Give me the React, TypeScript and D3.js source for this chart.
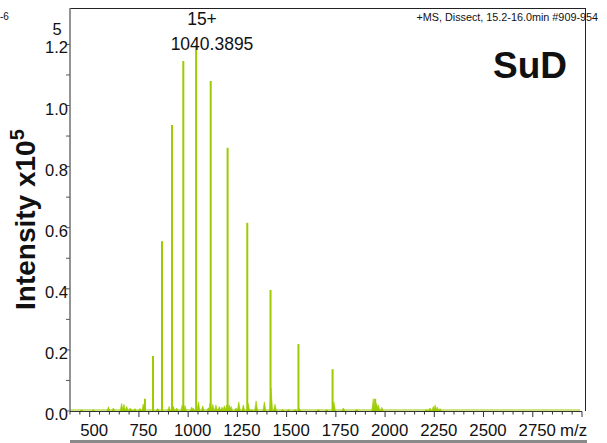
import React from "react";
import * as d3 from "d3";

const W = 607;
const H = 443;

// Charge-state series peaks (m/z, intensity x1e5)
const peakMz = [780.5, 821.6, 867.1, 918.1, 975.4, 1040.39, 1114.6, 1200.3, 1300.2, 1418.3, 1560.1, 1733.3, 1949.8];
const peakInt = [0.04, 0.18, 0.556, 0.936, 1.146, 1.198, 1.08, 0.862, 0.616, 0.396, 0.219, 0.137, 0.04];

// Minor / noise peaks
const noiseMz = [459, 518, 595, 620, 662, 674, 688, 705, 713, 730, 755, 772, 845, 903, 925, 942, 970, 984, 1018, 1026, 1052, 1074, 1102, 1111, 1125, 1141, 1158, 1172, 1184, 1196, 1209, 1218, 1243, 1257, 1280, 1305, 1323, 1345, 1387, 1421, 1441, 1480, 1509, 1543, 1565, 1661, 1704, 1740, 1788, 1856, 1940, 1957, 1966, 1983, 2210, 2228, 2245, 2254, 2265, 2279];
const noiseInt = [0.004, 0.004, 0.014, 0.01, 0.025, 0.022, 0.015, 0.01, 0.005, 0.008, 0.008, 0.023, 0.008, 0.015, 0.015, 0.01, 0.02, 0.018, 0.013, 0.01, 0.03, 0.017, 0.01, 0.025, 0.022, 0.02, 0.015, 0.013, 0.017, 0.02, 0.02, 0.015, 0.01, 0.03, 0.02, 0.025, 0.005, 0.033, 0.03, 0.075, 0.022, 0.005, 0.005, 0.005, 0.008, 0.005, 0.004, 0.03, 0.01, 0.005, 0.04, 0.025, 0.02, 0.012, 0.005, 0.01, 0.015, 0.02, 0.013, 0.008];

const yTickLabels = ["0.0", "0.2", "0.4", "0.6", "0.8", "1.0", "1.2"];
const xTickLabels = [500, 750, 1000, 1250, 1500, 1750, 2000, 2250, 2500, 2750];

const GREEN = "#9ccc00";
const FONT = "Liberation Sans, Arial, sans-serif";

export default function App() {
  const x = d3.scaleLinear().domain([400, 3000]).range([70, 582]);
  const y = d3.scaleLinear().domain([0, 1.2]).range([411, 44.4]);

  const minorX = d3.range(400, 3001, 50);
  const minorY = d3.range(0, 1.21, 0.1);

  return (
    <div style={{ position: "absolute", left: 0, top: 0 }}>
      <svg width={W} height={H} style={{ display: "block", fontFamily: FONT }}>
        <rect width={W} height={H} fill="#fff" />
        {/* frame */}
        <line x1={70} y1={8.5} x2={585.5} y2={8.5} stroke="#222" strokeWidth={1} />
        <line x1={585.5} y1={8} x2={585.5} y2={411} stroke="#222" strokeWidth={1} />
        {/* baseline spectrum */}
        <line x1={x(400)} y1={y(0) - 1} x2={x(2990)} y2={y(0) - 1} stroke={GREEN} strokeWidth={1.2} />
        {/* noise peaks */}
        {noiseMz.map((m, i) => (
          <path
            key={"n" + i}
            d={`M${x(m) - 1.5},${y(0)} L${x(m)},${y(noiseInt[i])} L${x(m) + 1.5},${y(0)} Z`}
            fill={GREEN}
            stroke={GREEN}
            strokeWidth={0.6}
          />
        ))}
        {/* main peaks */}
        {peakMz.map((m, i) => (
          <line
            key={"p" + i}
            x1={x(m)}
            x2={x(m)}
            y1={y(0)}
            y2={y(peakInt[i])}
            stroke={GREEN}
            strokeWidth={2}
          />
        ))}
        {/* y axis */}
        <line x1={70} y1={8} x2={70} y2={411.5} stroke="#707070" strokeWidth={1.5} />
        {minorY.map((v, i) => (
          <line key={"yt" + i} x1={66} x2={70} y1={y(v)} y2={y(v)} stroke="#555" strokeWidth={1} />
        ))}
        {yTickLabels.map((t) => (
          <text key={t} x={68} y={y(+t) + 9} textAnchor="end" fontSize={16.5} fill="#111">
            {t}
          </text>
        ))}
        <text x={57} y={35} textAnchor="middle" fontSize={16.5} fill="#111">5</text>
        <text x={0} y={20} fontSize={10} fill="#111">-6</text>
        {/* x axis */}
        <line x1={70} y1={411.5} x2={582} y2={411.5} stroke="#333" strokeWidth={1} />
        {minorX.map((v) => (
          <line
            key={"xt" + v}
            x1={x(v)}
            x2={x(v)}
            y1={411.5}
            y2={v % 250 === 0 ? 417 : 414.5}
            stroke="#333"
            strokeWidth={1}
          />
        ))}
        {xTickLabels.map((v) => (
          <text key={"xl" + v} x={x(v) + 4.5} y={436} textAnchor="middle" fontSize={16.8} fill="#111">
            {v}
          </text>
        ))}
        <text x={560} y={436} fontSize={16.8} fill="#111">m/z</text>
        <rect x={70} y={440} width={517} height={3} fill="#8a8a8a" />
        {/* y axis title */}
        <text transform="translate(34.5,310) rotate(-90)" fontSize={28} fontWeight="bold" fill="#111">
          Intensity x10
          <tspan fontSize={20} dy={-11}>5</tspan>
        </text>
        {/* annotations */}
        <text x={202} y={25} textAnchor="middle" fontSize={17.5} fill="#111">15+</text>
        <text x={212} y={50} textAnchor="middle" fontSize={17.5} fill="#111">1040.3895</text>
        <text x={598} y={21} textAnchor="end" fontSize={10.8} fill="#111">+MS, Dissect, 15.2-16.0min #909-954</text>
        <text x={493} y={78} fontSize={37} fontWeight="bold" fill="#111">SuD</text>
      </svg>
    </div>
  );
}
